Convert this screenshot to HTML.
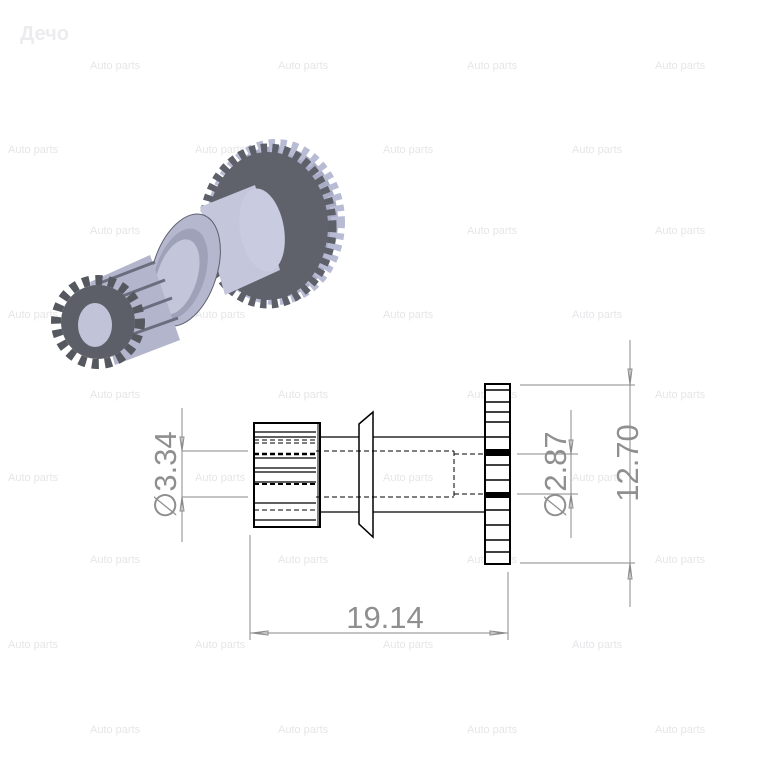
<!DOCTYPE html>
<html><head><meta charset="utf-8"><style>
html,body{margin:0;padding:0;background:#fff;}
svg{display:block}
.wm{font-family:"Liberation Sans",sans-serif;font-size:11px;fill:#e6e6e9;}
.d{font-family:"Liberation Sans",sans-serif;font-size:31px;fill:#8f8f8f;}
</style></head><body>
<svg width="768" height="768" viewBox="0 0 768 768" xmlns="http://www.w3.org/2000/svg">
<text x="20" y="40" font-family="Liberation Sans,sans-serif" font-size="20" font-weight="bold" fill="#ececef">Дечо</text>
<g class="wm">
<text x="90" y="69">Auto parts</text><text x="278" y="69">Auto parts</text><text x="467" y="69">Auto parts</text><text x="655" y="69">Auto parts</text>
<text x="8" y="153">Auto parts</text><text x="195" y="153">Auto parts</text><text x="383" y="153">Auto parts</text><text x="572" y="153">Auto parts</text>
<text x="90" y="234">Auto parts</text><text x="278" y="234">Auto parts</text><text x="467" y="234">Auto parts</text><text x="655" y="234">Auto parts</text>
<text x="8" y="318">Auto parts</text><text x="195" y="318">Auto parts</text><text x="383" y="318">Auto parts</text><text x="572" y="318">Auto parts</text>
<text x="90" y="398">Auto parts</text><text x="278" y="398">Auto parts</text><text x="467" y="398">Auto parts</text><text x="655" y="398">Auto parts</text>
<text x="8" y="481">Auto parts</text><text x="195" y="481">Auto parts</text><text x="383" y="481">Auto parts</text><text x="572" y="481">Auto parts</text>
<text x="90" y="563">Auto parts</text><text x="278" y="563">Auto parts</text><text x="467" y="563">Auto parts</text><text x="655" y="563">Auto parts</text>
<text x="8" y="648">Auto parts</text><text x="195" y="648">Auto parts</text><text x="383" y="648">Auto parts</text><text x="572" y="648">Auto parts</text>
<text x="90" y="733">Auto parts</text><text x="278" y="733">Auto parts</text><text x="467" y="733">Auto parts</text><text x="655" y="733">Auto parts</text>
</g>

<g>
 <ellipse cx="276" cy="222" rx="62" ry="76" fill="#a9acc4" stroke="#b8bbd4" stroke-width="14" stroke-dasharray="6 5"/>
 <ellipse cx="268" cy="226" rx="62" ry="76" fill="none" stroke="#5d6068" stroke-width="13" stroke-dasharray="6 5"/>
 <ellipse cx="268" cy="226" rx="60" ry="74" fill="#5f626b"/>
 <polygon points="200,207 255,185 280,270 225,295" fill="#c4c6dc"/>
 <ellipse cx="262" cy="230" rx="22" ry="42" fill="#c9cbe0" transform="rotate(-10 262 230)"/>
 <ellipse cx="185" cy="270" rx="32" ry="58" fill="#b5b7ce" stroke="#5e6070" stroke-width="1" transform="rotate(18 185 270)"/>
 <ellipse cx="180" cy="274" rx="25" ry="47" fill="#9fa1b8" transform="rotate(18 180 274)"/>
 <ellipse cx="177" cy="277" rx="20" ry="39" fill="#c3c5da" transform="rotate(18 177 277)"/>
 <polygon points="90,282 150,255 180,340 115,365" fill="#b3b5cc"/>
 <g stroke="#6a6d7d" stroke-width="3">
  <line x1="100" y1="283" x2="155" y2="262"/><line x1="112" y1="300" x2="165" y2="280"/>
  <line x1="118" y1="318" x2="172" y2="298"/><line x1="122" y1="338" x2="178" y2="318"/>
 </g>
 <circle cx="98" cy="322" r="42" fill="none" stroke="#55585f" stroke-width="10" stroke-dasharray="7 6"/>
 <circle cx="98" cy="322" r="37" fill="#5c5f67"/>
 <ellipse cx="95" cy="325" rx="17" ry="22" fill="#c1c3d8"/>
</g>

<g stroke="#000" fill="none">
 <line x1="319" y1="437" x2="485" y2="437" stroke-width="1.2"/>
 <line x1="319" y1="512" x2="485" y2="512" stroke-width="1.2"/>
 <path d="M359 424 L373 412 L373 537 L359 524 Z" fill="#fff" stroke-width="1.5"/>
 <rect x="254" y="423" width="66" height="104" fill="#fff" stroke-width="2"/>
 <line x1="318" y1="423" x2="318" y2="527" stroke-width="1"/>
 <g stroke-width="1.2">
  <line x1="254" y1="432" x2="316" y2="432"/><line x1="254" y1="437" x2="316" y2="437"/>
  <line x1="254" y1="458" x2="316" y2="458"/><line x1="254" y1="468" x2="316" y2="468"/>
  <line x1="254" y1="472" x2="316" y2="472"/><line x1="254" y1="482" x2="316" y2="482"/>
  <line x1="254" y1="503" x2="316" y2="503"/><line x1="254" y1="520" x2="316" y2="520"/>
 </g>
 <g stroke-width="1" stroke-dasharray="5 3">
  <line x1="254" y1="440" x2="316" y2="440"/><line x1="254" y1="443" x2="316" y2="443"/>
  <line x1="254" y1="454" x2="316" y2="454" stroke-width="2.5"/>
  <line x1="254" y1="484" x2="316" y2="484" stroke-width="2"/>
  <line x1="254" y1="510" x2="316" y2="510"/>
  <line x1="316" y1="451" x2="454" y2="451"/><line x1="316" y1="497" x2="454" y2="497"/>
  <line x1="454" y1="454" x2="485" y2="454"/><line x1="454" y1="494" x2="485" y2="494"/>
  <line x1="454" y1="451" x2="454" y2="497"/>
 </g>
 <rect x="485" y="384" width="25" height="180" fill="#fff" stroke-width="2"/>
 <g stroke-width="1.5">
  <line x1="485" y1="390" x2="510" y2="390"/><line x1="485" y1="402" x2="510" y2="402"/>
  <line x1="485" y1="412" x2="510" y2="412"/><line x1="485" y1="422" x2="510" y2="422"/>
  <line x1="485" y1="437" x2="510" y2="437"/><line x1="485" y1="453" x2="510" y2="453"/>
  <line x1="485" y1="465" x2="510" y2="465"/><line x1="485" y1="480" x2="510" y2="480"/>
  <line x1="485" y1="495" x2="510" y2="495"/><line x1="485" y1="510" x2="510" y2="510"/>
  <line x1="485" y1="525" x2="510" y2="525"/><line x1="485" y1="540" x2="510" y2="540"/>
  <line x1="485" y1="552" x2="510" y2="552"/>
 </g>
 <rect x="485" y="449" width="25" height="7" fill="#000" stroke="none"/>
 <rect x="485" y="492" width="25" height="6" fill="#000" stroke="none"/>
</g>

<g stroke="#8a8a8a" stroke-width="1" fill="none">
 <line x1="182" y1="408" x2="182" y2="542"/>
 <line x1="182" y1="451" x2="248" y2="451"/><line x1="182" y1="497" x2="248" y2="497"/>
 <line x1="571" y1="410" x2="571" y2="538"/>
 <line x1="517" y1="454" x2="578" y2="454"/><line x1="517" y1="494" x2="578" y2="494"/>
 <line x1="630" y1="340" x2="630" y2="607"/>
 <line x1="520" y1="385" x2="635" y2="385"/><line x1="520" y1="563" x2="635" y2="563"/>
 <line x1="250" y1="535" x2="250" y2="640"/><line x1="508" y1="572" x2="508" y2="640"/>
 <line x1="250" y1="633" x2="508" y2="633"/>
 <path d="M252 633 l16 -2 v4 z M506 633 l-16 -2 v4 z M630 385 l-2 -16 h4 z M630 563 l-2 16 h4 z M182 451 l-2 -14 h4z M182 497 l-2 14 h4z M571 454 l-2 -14 h4z M571 494 l-2 14 h4z"/>
</g>
<text class="d" x="385" y="628" text-anchor="middle">19.14</text>
<text class="d" transform="translate(176 475) rotate(-90)" text-anchor="middle">∅3.34</text>
<text class="d" transform="translate(566 475) rotate(-90)" text-anchor="middle">∅2.87</text>
<text class="d" transform="translate(638 463) rotate(-90)" text-anchor="middle">12.70</text>
</svg>
</body></html>
